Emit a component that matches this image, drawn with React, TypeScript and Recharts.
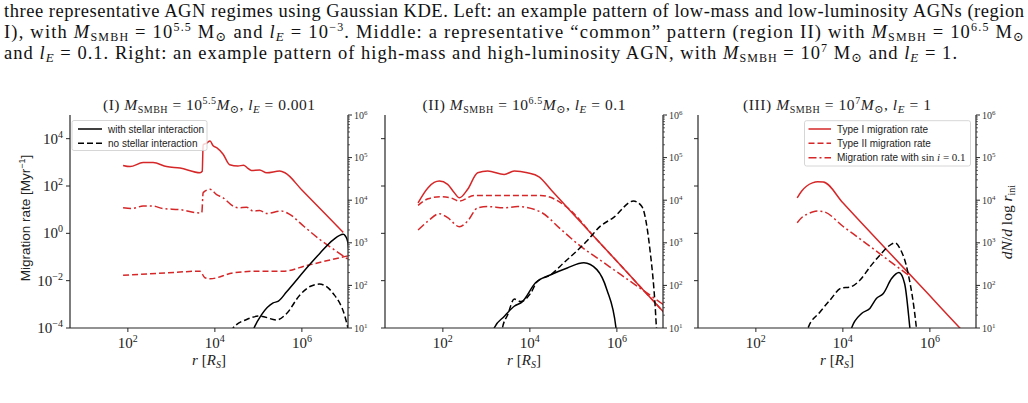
import React from 'react';
import { LineChart, Line, XAxis, YAxis } from 'recharts';

const RED = '#d62728';
const AXIS = '#262626';
const SERIF = '"Liberation Serif", "DejaVu Serif", serif';
const SANS = '"Liberation Sans", Arial, sans-serif';

// values are [log10(r / R_S), log10(value)]
// left axis: migration rate [Myr^-1], right axis: dN/dlog r_ini

// (I) M = 10^5.5, l_E = 0.001
const p1TypeI = [[1.89, 2.87], [2.05, 2.82], [2.35, 2.99], [2.58, 2.99], [2.89, 2.82], [3.2, 2.76], [3.66, 2.56], [3.71, 2.62], [3.73, 3.74], [3.8, 3.8], [3.89, 3.9], [3.96, 3.7], [4.04, 3.62], [4.19, 3.34], [4.34, 2.9], [4.53, 2.84], [4.66, 2.88], [4.75, 2.76], [4.84, 2.66], [5.03, 2.68], [5.19, 2.56], [5.49, 2.63], [5.61, 2.56], [6.0, 1.83], [6.5, 0.89], [6.95, 0.04]];
const p1TypeII = [[1.89, -1.77], [2.89, -1.67], [3.66, -1.6], [3.77, -1.88], [3.89, -1.92], [4.42, -1.67], [4.96, -1.6], [5.57, -1.6], [6.11, -1.36], [7.06, -0.95]];
const p1SinI = [[1.89, 1.08], [2.1, 1.05], [2.35, 1.15], [2.58, 1.15], [2.8, 1.05], [3.2, 1.0], [3.66, 0.86], [3.7, 0.88], [3.73, 1.72], [3.89, 1.86], [4.04, 1.64], [4.19, 1.5], [4.42, 1.15], [4.53, 1.08], [4.73, 1.1], [4.88, 0.94], [5.03, 0.97], [5.19, 0.84], [5.53, 0.94], [5.72, 0.8], [6.05, 0.29], [6.41, -0.26], [6.75, -0.7], [7.06, -1.1]];
const p1With = [[4.86, 0.9], [4.9, 1.0], [5.07, 1.31], [5.34, 1.59], [5.46, 1.63], [5.65, 1.85], [6.18, 2.49], [6.41, 2.75], [6.72, 3.07], [6.95, 3.2], [7.0, 3.16], [7.06, 3.0], [7.1, 2.5]];
const p1No = [[4.38, 0.9], [4.42, 1.0], [4.73, 1.2], [5.03, 1.28], [5.42, 1.19], [5.65, 1.34], [5.95, 1.77], [6.2, 1.98], [6.4, 2.03], [6.72, 1.81], [6.99, 1.27], [7.07, 0.95]];

// (II) M = 10^6.5, l_E = 0.1
const p2TypeI = [[1.43, 1.29], [1.66, 1.93], [1.8, 2.15], [1.92, 2.21], [2.11, 2.07], [2.25, 1.75], [2.38, 1.5], [2.57, 1.86], [2.8, 2.56], [3.03, 2.63], [3.41, 2.49], [3.64, 2.63], [3.94, 2.56], [4.21, 2.39], [4.5, 1.81], [5.0, 0.81], [5.5, -0.19], [6.0, -1.18], [6.5, -2.18], [7.1, -3.38]];
const p2TypeII = [[1.43, 1.18], [1.66, 1.46], [1.95, 1.55], [2.18, 1.5], [2.38, 1.36], [2.72, 1.6], [3.48, 1.6], [4.25, 1.6], [4.55, 1.46], [4.86, 1.09], [5.5, -0.19], [6.0, -1.18], [6.5, -2.18], [7.1, -3.38]];
const p2SinI = [[1.43, 0.14], [1.66, 0.52], [1.92, 0.83], [2.11, 0.66], [2.38, 0.28], [2.57, 0.52], [2.8, 1.08], [3.03, 1.13], [3.41, 1.08], [3.72, 1.13], [4.25, 0.9], [4.7, 0.19], [5.16, -0.54], [5.6, -1.11], [6.1, -1.76], [6.69, -2.52], [7.1, -3.05]];
const p2With = [[3.15, 0.8], [3.18, 1.0], [3.41, 1.27], [3.64, 1.51], [3.83, 1.62], [4.13, 2.06], [4.48, 2.25], [4.86, 2.41], [5.24, 2.53], [5.54, 2.37], [5.77, 1.9], [5.98, 1.0], [6.0, 0.8]];
const p2No = [[3.35, 0.8], [3.37, 1.0], [3.49, 1.31], [3.64, 1.68], [3.79, 1.62], [4.02, 1.82], [4.17, 2.09], [4.48, 2.25], [4.78, 2.53], [5.31, 3.04], [5.62, 3.39], [5.92, 3.59], [6.38, 3.98], [6.57, 3.86], [6.76, 2.84], [6.88, 1.51], [6.91, 1.0], [6.93, 0.8]];

// (III) M = 10^7, l_E = 1
const p3TypeI = [[2.95, 1.5], [3.05, 1.78], [3.17, 2.0], [3.3, 2.13], [3.42, 2.18], [3.55, 2.17], [4.0, 1.29], [4.5, 0.3], [5.0, -0.68], [5.5, -1.66], [6.0, -2.64], [6.5, -3.63], [6.75, -4.12]];
const p3SinI = [[2.95, 0.45], [3.05, 0.66], [3.17, 0.8], [3.3, 0.9], [3.42, 0.94], [3.55, 0.92], [4.0, 0.3], [4.5, -0.38], [5.0, -1.07], [5.54, -1.81]];
const p3With = [[4.17, 0.8], [4.2, 1.0], [4.43, 1.34], [4.62, 1.46], [4.77, 1.69], [4.93, 1.81], [5.12, 2.16], [5.29, 2.3], [5.42, 2.04], [5.54, 1.0], [5.56, 0.8]];
const p3No = [[3.17, 0.8], [3.2, 1.0], [3.47, 1.37], [3.7, 1.65], [3.97, 1.94], [4.16, 1.96], [4.39, 2.12], [4.62, 2.43], [4.85, 2.71], [5.05, 2.92], [5.2, 3.0], [5.31, 2.87], [5.5, 2.28], [5.69, 1.0], [5.71, 0.8]];

const X_TICKS = [1e2, 1e4, 1e6];
const LEFT_TICKS = [1e-4, 1e-2, 1, 1e2, 1e4];
const RIGHT_MAJOR = [1e1, 1e2, 1e3, 1e4, 1e5, 1e6];
const RIGHT_MINOR = RIGHT_MAJOR.slice(0, -1).flatMap((d) => [2, 3, 4, 5, 6, 7, 8, 9].map((m) => m * d));
const RIGHT_TICKS = [...RIGHT_MAJOR, ...RIGHT_MINOR].sort((a, b) => a - b);

const X_DOMAIN = [10 ** 0.67, 10 ** 7.06];
const LEFT_DOMAIN = [1e-4, 1e5];
const RIGHT_DOMAIN = [1e1, 1e6];

// plot-area geometry
const PLOT_W = 278;
const PLOT_H = 213;
const PLOT_TOP = 115;
const LEFT_W = 60;
const RIGHT_W = 45;
const BOTTOM_H = 40;
const TOP_PAD = 10;
const PANEL_LEFT = [70, 385, 698];

const DASH = '6 3';
const DASHDOT = '8 3 2 3';

const pts = (arr: number[][]) => arr.map(([a, b]) => ({ r: 10 ** a, v: 10 ** b }));
const expOf = (v: number) => Math.round(Math.log10(v));
const fmtExp = (e: number) => (e < 0 ? '\u2212' + Math.abs(e) : String(e));

const XTick = (props: any) => {
  const { x, y, payload } = props;
  return (
    <g>
      <line x1={x} x2={x} y1={y} y2={y + 4} stroke={AXIS} strokeWidth={1} />
      <text x={x} y={y + 20} textAnchor="middle" fontFamily={SERIF} fontSize={15} fill="#222">
        10<tspan fontSize={10} dy={-6}>{fmtExp(expOf(payload.value))}</tspan>
      </text>
    </g>
  );
};

const LeftTick = (props: any) => {
  const { x, y, payload, labels } = props;
  return (
    <g>
      <line x1={x - 4} x2={x} y1={y} y2={y} stroke={AXIS} strokeWidth={1} />
      {labels && (
        <text x={x - 7} y={y + 5} textAnchor="end" fontFamily={SERIF} fontSize={15} fill="#222">
          10<tspan fontSize={10} dy={-6}>{fmtExp(expOf(payload.value))}</tspan>
        </text>
      )}
    </g>
  );
};

const RightTick = (props: any) => {
  const { x, y, payload } = props;
  const lg = Math.log10(payload.value);
  const major = Math.abs(lg - Math.round(lg)) < 1e-6;
  return (
    <g>
      <line x1={x} x2={x + (major ? 4 : 2)} y1={y} y2={y} stroke={AXIS} strokeWidth={major ? 1 : 0.7} />
      {major && (
        <text x={x + 6} y={y + 3.5} fontFamily={SERIF} fontSize={10} fill="#333">
          10<tspan fontSize={7} dy={-4}>{Math.round(lg)}</tspan>
        </text>
      )}
    </g>
  );
};

type Series = { data: number[][]; color: string; dash?: string; axis: 'l' | 'r' };

const panels: Series[][] = [
  [
    { data: p1TypeII, color: RED, dash: DASH, axis: 'l' },
    { data: p1SinI, color: RED, dash: DASHDOT, axis: 'l' },
    { data: p1TypeI, color: RED, axis: 'l' },
    { data: p1No, color: '#000', dash: DASH, axis: 'r' },
    { data: p1With, color: '#000', axis: 'r' },
  ],
  [
    { data: p2TypeII, color: RED, dash: DASH, axis: 'l' },
    { data: p2SinI, color: RED, dash: DASHDOT, axis: 'l' },
    { data: p2TypeI, color: RED, axis: 'l' },
    { data: p2No, color: '#000', dash: DASH, axis: 'r' },
    { data: p2With, color: '#000', axis: 'r' },
  ],
  [
    { data: p3SinI, color: RED, dash: DASHDOT, axis: 'l' },
    { data: p3TypeI, color: RED, axis: 'l' },
    { data: p3No, color: '#000', dash: DASH, axis: 'r' },
    { data: p3With, color: '#000', axis: 'r' },
  ],
];

const axisLine = { stroke: AXIS, strokeWidth: 1.2 };

function Panel({ left, series, leftLabels }: { left: number; series: Series[]; leftLabels: boolean }) {
  return (
    <div style={{ position: 'absolute', left: left - LEFT_W, top: PLOT_TOP - TOP_PAD }}>
      <LineChart
        width={LEFT_W + PLOT_W + RIGHT_W}
        height={TOP_PAD + PLOT_H + BOTTOM_H}
        margin={{ top: TOP_PAD, right: 0, bottom: 0, left: 0 }}
      >
        <XAxis xAxisId="b" dataKey="r" type="number" scale="log" domain={X_DOMAIN} allowDataOverflow
          ticks={X_TICKS} interval={0} tickSize={0} tickMargin={0} tickLine={false}
          tick={XTick} height={BOTTOM_H} axisLine={axisLine} />
        <XAxis xAxisId="t" orientation="top" dataKey="r" type="number" scale="log" domain={X_DOMAIN}
          allowDataOverflow height={0} tick={false} tickLine={false} axisLine={axisLine} />
        <YAxis yAxisId="l" type="number" scale="log" domain={LEFT_DOMAIN} allowDataOverflow
          ticks={LEFT_TICKS} interval={0} tickSize={0} tickMargin={0} tickLine={false} width={LEFT_W}
          tick={(p: any) => <LeftTick {...p} labels={leftLabels} />} axisLine={axisLine} />
        <YAxis yAxisId="r" orientation="right" type="number" scale="log" domain={RIGHT_DOMAIN} allowDataOverflow
          ticks={RIGHT_TICKS} interval={0} tickSize={0} tickMargin={0} tickLine={false} width={RIGHT_W}
          tick={RightTick} axisLine={axisLine} />
        {series.map((s, i) => (
          <Line key={i} xAxisId="b" yAxisId={s.axis} data={pts(s.data)} dataKey="v" type="monotone"
            stroke={s.color} strokeWidth={1.5} strokeDasharray={s.dash} dot={false} activeDot={false}
            isAnimationActive={false} />
        ))}
      </LineChart>
    </div>
  );
}

const I = ({ children }: any) => <tspan fontStyle="italic">{children}</tspan>;
const Sub = ({ children, fs = 11, s = -3 }: any) => <tspan fontSize={fs} baselineShift={`${s}px`}>{children}</tspan>;
const Sup = ({ children, fs = 11, s = 6 }: any) => <tspan fontSize={fs} baselineShift={`${s}px`}>{children}</tspan>;

const TITLES = ['(I)', '(II)', '(III)'];
const MASS = ['5.5', '6.5', '7'];
const LE = ['0.001', '0.1', '1'];
const TITLE_W = [212, 203, 188];

export default function App() {
  return (
    <div style={{ position: 'absolute', left: 0, top: 0, width: 1028, height: 403, background: '#fff', overflow: 'hidden' }}>
      {panels.map((s, i) => (
        <Panel key={i} left={PANEL_LEFT[i]} series={s} leftLabels={i === 0} />
      ))}
      <svg width={1028} height={403} style={{ position: 'absolute', left: 0, top: 0, pointerEvents: 'none' }}>
        {/* caption */}
        <g fontFamily={SERIF} fontSize={18.5} fill="#111">
          <text x={4} y={17} textLength={1020} lengthAdjust="spacing">three representative AGN regimes using Gaussian KDE. Left: an example pattern of low-mass and low-luminosity AGNs (region</text>
          <text x={4} y={38} textLength={1020} lengthAdjust="spacing">I), with <I>M</I><Sub fs={12}>SMBH</Sub> = 10<Sup fs={12} s={7}>5.5</Sup> M<Sub fs={13}>⊙</Sub> and <I>l</I><Sub fs={13}><I>E</I></Sub> = 10<Sup fs={12} s={7}>−3</Sup>. Middle: a representative “common” pattern (region II) with <I>M</I><Sub fs={12}>SMBH</Sub> = 10<Sup fs={12} s={7}>6.5</Sup> M<Sub fs={13}>⊙</Sub></text>
          <text x={4} y={59} textLength={953} lengthAdjust="spacing">and <I>l</I><Sub fs={13}><I>E</I></Sub> = 0.1. Right: an example pattern of high-mass and high-luminosity AGN, with <I>M</I><Sub fs={12}>SMBH</Sub> = 10<Sup fs={12} s={7}>7</Sup> M<Sub fs={13}>⊙</Sub> and <I>l</I><Sub fs={13}><I>E</I></Sub> = 1.</text>
        </g>

        {/* panel titles and x labels */}
        {PANEL_LEFT.map((l, i) => (
          <g key={i} fontFamily={SERIF} fill="#222">
            <text x={l + PLOT_W / 2} y={110} textAnchor="middle" fontSize={15.5} textLength={TITLE_W[i]} lengthAdjust="spacing">
              {TITLES[i]} <I>M</I><Sub fs={10}>SMBH</Sub> = 10<Sup fs={10}>{MASS[i]}</Sup><I>M</I><Sub fs={11}>⊙</Sub>, <I>l</I><Sub fs={11}><I>E</I></Sub> = {LE[i]}
            </text>
            <text x={l + PLOT_W / 2} y={365} textAnchor="middle" fontSize={15}>
              <I>r</I> [<I>R</I><Sub fs={10}><I>S</I></Sub>]
            </text>
          </g>
        ))}

        {/* y labels */}
        <text transform="translate(30 218) rotate(-90)" textAnchor="middle" fontFamily={SANS} fontSize={13.5} fill="#222">
          Migration rate [Myr<Sup fs={9} s={5}>−1</Sup>]
        </text>
        <text transform="translate(1012 222) rotate(-90)" textAnchor="middle" fontFamily={SERIF} fontSize={15.5} fill="#222">
          <I>dN</I>/<I>d</I> log <I>r</I><Sub fs={10}>ini</Sub>
        </text>

        {/* legend, panel I */}
        <g fontFamily={SANS} fontSize={10} fill="#222">
          <rect x={72} y={120.5} width={135} height={30} rx={2} fill="#fff" fillOpacity={0.8} stroke="#cccccc" strokeWidth={0.8} />
          <line x1={78} x2={102} y1={129} y2={129} stroke="#000" strokeWidth={1.5} />
          <text x={108} y={132.5}>with stellar interaction</text>
          <line x1={78} x2={102} y1={143.3} y2={143.3} stroke="#000" strokeWidth={1.5} strokeDasharray={DASH} />
          <text x={108} y={146.8}>no stellar interaction</text>
        </g>

        {/* legend, panel III */}
        <g fontFamily={SANS} fontSize={10} fill="#222">
          <rect x={804.5} y={120.7} width={166} height={45.3} rx={2} fill="#fff" fillOpacity={0.8} stroke="#cccccc" strokeWidth={0.8} />
          <line x1={808.5} x2={831} y1={129} y2={129} stroke={RED} strokeWidth={1.5} />
          <text x={837} y={132.5}>Type I migration rate</text>
          <line x1={808.5} x2={831} y1={143.3} y2={143.3} stroke={RED} strokeWidth={1.5} strokeDasharray={DASH} />
          <text x={837} y={146.8}>Type II migration rate</text>
          <line x1={808.5} x2={831} y1={157.7} y2={157.7} stroke={RED} strokeWidth={1.5} strokeDasharray={DASHDOT} />
          <text x={837} y={161.2}>Migration rate with <tspan fontFamily={SERIF} fontSize={11}>sin <I>i</I> = 0.1</tspan></text>
        </g>
      </svg>
    </div>
  );
}
